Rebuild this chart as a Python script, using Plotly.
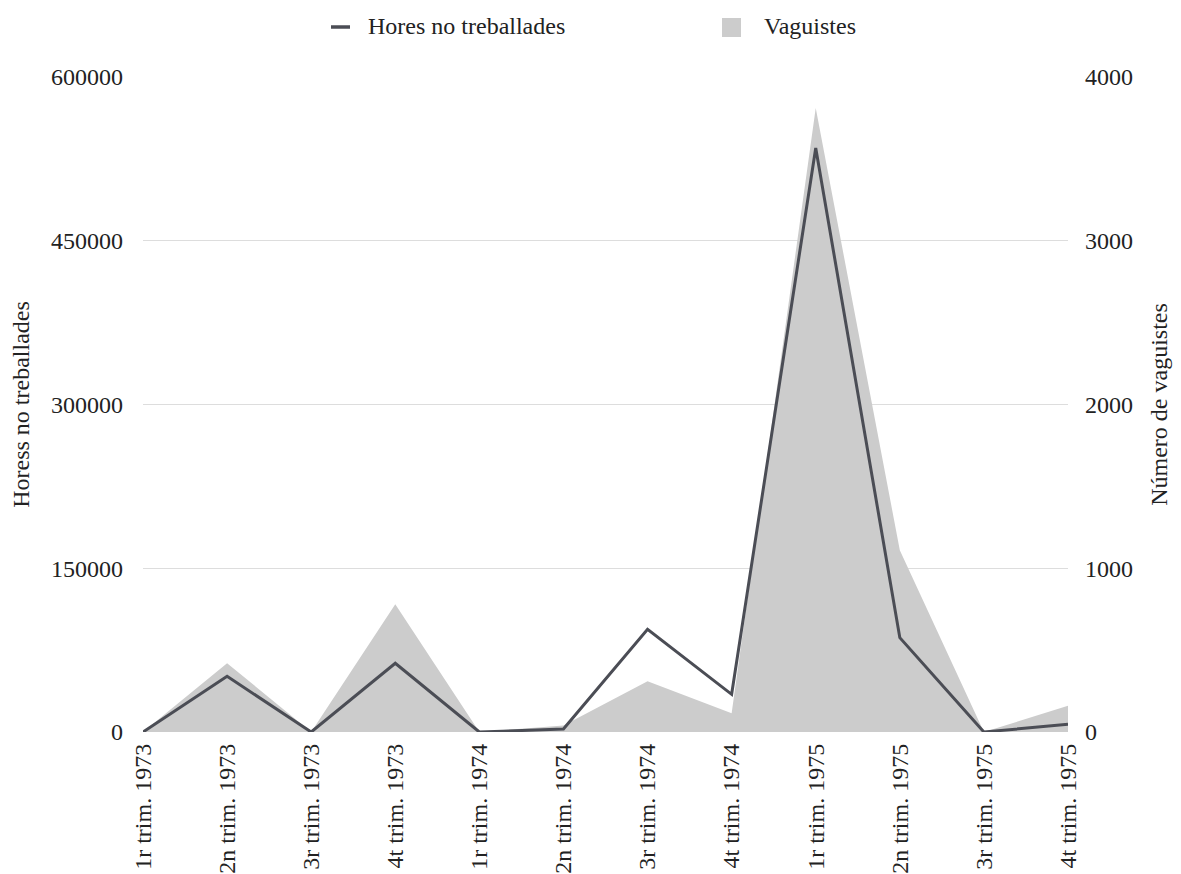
import plotly.graph_objects as go

categories = ["1r trim. 1973", "2n trim. 1973", "3r trim. 1973", "4t trim. 1973",
              "1r trim. 1974", "2n trim. 1974", "3r trim. 1974", "4t trim. 1974",
              "1r trim. 1975", "2n trim. 1975", "3r trim. 1975", "4t trim. 1975"]
hores = [0, 51000, 0, 63000, 0, 2700, 94000, 34500, 535000, 86400, 0, 7000]
vaguistes = [0, 420, 0, 780, 0, 40, 310, 115, 3810, 1110, 0, 160]

left_ticks = [0, 150000, 300000, 450000, 600000]
right_ticks = [0, 1000, 2000, 3000, 4000]

FONT = "Liberation Serif, Times New Roman, Tinos, DejaVu Serif, serif"
FS = 24
TXT = "#222222"
LINE_C = "#4b4d55"
AREA_C = "#cccccc"
x = list(range(len(categories)))

# page has an 8px body margin; plot area on screen: x 143..1068, y 77..732
OFF = 8
PL, PR, PT, PB = 143 - OFF, 1068 - OFF, 77 - OFF, 732 - OFF
W, H = 1181, 874
PW, PH = PR - PL, PB - PT


def px(sx):
    return (sx - OFF - PL) / PW


def py(sy):
    return (PB - (sy - OFF)) / PH


fig = go.Figure()
fig.add_trace(go.Scatter(
    x=x, y=vaguistes, name="Vaguistes", yaxis="y",
    mode="lines", fill="tozeroy", fillcolor=AREA_C,
    line=dict(width=0, color=AREA_C), showlegend=False,
))
fig.add_trace(go.Scatter(
    x=x, y=hores, name="Hores no treballades", yaxis="y2",
    mode="lines", line=dict(color=LINE_C, width=3), showlegend=False,
))

# legend drawn as layout decorations
fig.add_shape(type="line", xref="paper", yref="paper",
              x0=px(331), x1=px(350), y0=py(27), y1=py(27),
              line=dict(color=LINE_C, width=3.5))
fig.add_shape(type="rect", xref="paper", yref="paper",
              x0=px(722), x1=px(741), y0=py(37), y1=py(18),
              fillcolor=AREA_C, line=dict(width=0))
fig.add_annotation(text="Hores no treballades", xref="paper", yref="paper",
                   x=px(366), y=py(26), xanchor="left", yanchor="middle",
                   showarrow=False, font=dict(family=FONT, size=FS, color=TXT))
fig.add_annotation(text="Vaguistes", xref="paper", yref="paper",
                   x=px(762), y=py(26), xanchor="left", yanchor="middle",
                   showarrow=False, font=dict(family=FONT, size=FS, color=TXT))

fig.update_layout(
    width=W, height=H,
    margin=dict(l=PL, r=W - PR, t=PT, b=H - PB, autoexpand=False),
    paper_bgcolor="white", plot_bgcolor="white",
    font=dict(family=FONT, size=FS, color=TXT),
    showlegend=False,
    xaxis=dict(range=[0, 11], tickmode="array", tickvals=x, ticktext=categories,
               tickangle=-90, showgrid=False, zeroline=False, showline=False,
               automargin=False, ticks="", ticklabelstandoff=6,
               tickfont=dict(family=FONT, size=FS, color=TXT)),
    yaxis=dict(range=[0, 4000], side="right", tickmode="array", tickvals=right_ticks,
               ticktext=[str(v) for v in right_ticks],
               showgrid=True, gridcolor="#dddddd", gridwidth=1, zeroline=False,
               showline=False, ticks="", ticklabelstandoff=16, automargin=False,
               title=dict(text="Número de vaguistes", standoff=18,
                          font=dict(family=FONT, size=FS, color=TXT)),
               tickfont=dict(family=FONT, size=FS, color=TXT)),
    yaxis2=dict(range=[0, 600000], side="left", overlaying="y", tickmode="array",
                tickvals=left_ticks, ticktext=[str(v) for v in left_ticks],
                showgrid=False, zeroline=False, showline=False,
                ticks="", ticklabelstandoff=19, automargin=False,
                title=dict(text="Horess no treballades", standoff=18,
                           font=dict(family=FONT, size=FS, color=TXT)),
                tickfont=dict(family=FONT, size=FS, color=TXT)),
)

fig.write_html("out.html")
